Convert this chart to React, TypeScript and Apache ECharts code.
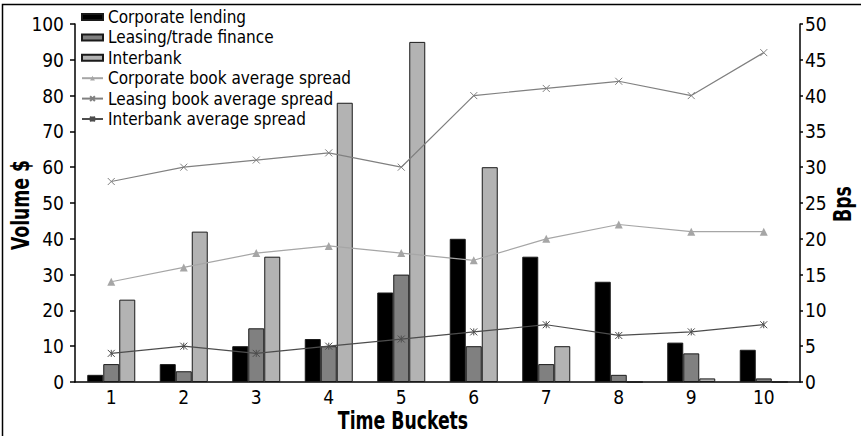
import React, { useEffect, useRef } from "react";
import * as echarts from "echarts";

const categories = ["1", "2", "3", "4", "5", "6", "7", "8", "9", "10"];
const corporateLending = [2, 5, 10, 12, 25, 40, 35, 28, 11, 9];
const leasingTrade = [5, 3, 15, 10, 30, 10, 5, 2, 8, 1];
const interbank = [23, 42, 35, 78, 95, 60, 10, 0, 1, 0];
const corporateSpread = [14, 16, 18, 19, 18, 17, 20, 22, 21, 21];
const leasingSpread = [28, 30, 31, 32, 30, 40, 41, 42, 40, 46];
const interbankSpread = [4, 5, 4, 5, 6, 7, 8, 6.5, 7, 8];

const FONT = "'Liberation Sans Narrow', 'DejaVu Sans Condensed', 'Roboto', sans-serif";

export default function App() {
  const ref = useRef<HTMLDivElement>(null);
  useEffect(() => {
    if (!ref.current) return;
    const chart = echarts.init(ref.current, undefined, { renderer: "svg" });
    const barStyle = (c: string) => ({ color: c, borderColor: "#1a1a1a", borderWidth: 1 });
    const titleStyle = (t: string) => ({
      text: t,
      fontFamily: FONT,
      fontWeight: "bold",
      fontSize: 24,
      fill: "#000",
      align: "center",
      verticalAlign: "middle",
    });
    chart.setOption({
      animation: false,
      backgroundColor: "#ffffff",
      textStyle: { fontFamily: FONT },
      grid: { left: 75, right: 61, top: 24, bottom: 54 },
      legend: {
        orient: "vertical",
        left: 81,
        top: 7,
        itemGap: 0.4,
        itemWidth: 21,
        itemHeight: 6,
        padding: 0,
        textStyle: { fontFamily: FONT, fontSize: 17, lineHeight: 20, color: "#000" },
        data: [
          { name: "Corporate lending", icon: "rect" },
          { name: "Leasing/trade finance", icon: "rect" },
          { name: "Interbank", icon: "rect" },
          { name: "Corporate book average spread" },
          { name: "Leasing book average spread" },
          { name: "Interbank average spread" },
        ],
      },
      graphic: [
        {
          type: "rect",
          shape: { x: 2.5, y: 4.5, width: 880, height: 460 },
          style: { fill: "none", stroke: "#000", lineWidth: 1.5 },
          z: 100,
        },
        { type: "text", x: 403, y: 421, scaleX: 0.8, style: titleStyle("Time Buckets") },
        { type: "text", x: 21, y: 205, rotation: Math.PI / 2, scaleX: 0.8, style: titleStyle("Volume $") },
        { type: "text", x: 843, y: 204, rotation: Math.PI / 2, scaleX: 0.8, style: titleStyle("Bps") },
      ],
      xAxis: {
        type: "category",
        data: categories,
        axisLine: { lineStyle: { color: "#000", width: 1.5 } },
        axisTick: { alignWithLabel: false, length: 4, lineStyle: { color: "#000", width: 1.5 } },
        axisLabel: { color: "#000", fontSize: 19, margin: 5, fontFamily: FONT },
        splitLine: { show: false },
      },
      yAxis: [
        {
          type: "value",
          min: 0,
          max: 100,
          interval: 10,
          axisLine: { show: true, lineStyle: { color: "#000", width: 1.5 } },
          axisTick: { show: true, length: 5, lineStyle: { color: "#000", width: 1.5 } },
          axisLabel: { color: "#000", fontSize: 19, margin: 11, fontFamily: FONT },
          splitLine: { show: false },
        },
        {
          type: "value",
          min: 0,
          max: 50,
          interval: 5,
          axisLine: { show: true, lineStyle: { color: "#000", width: 1.5 } },
          axisTick: { show: true, length: 3, lineStyle: { color: "#000", width: 1.5 } },
          axisLabel: { color: "#000", fontSize: 19, margin: 5, fontFamily: FONT },
          splitLine: { show: false },
        },
      ],
      series: [
        { name: "Corporate lending", type: "bar", yAxisIndex: 0, data: corporateLending, barWidth: 16, barGap: "0%", itemStyle: barStyle("#000000") },
        { name: "Leasing/trade finance", type: "bar", yAxisIndex: 0, data: leasingTrade, barWidth: 16, barGap: "0%", itemStyle: barStyle("#808080") },
        { name: "Interbank", type: "bar", yAxisIndex: 0, data: interbank, barWidth: 16, barGap: "0%", itemStyle: barStyle("#b3b3b3") },
        {
          name: "Corporate book average spread",
          type: "line",
          yAxisIndex: 1,
          data: corporateSpread,
          symbol: "triangle",
          symbolSize: 8,
          lineStyle: { color: "#a6a6a6", width: 1.2 },
          itemStyle: { color: "#a6a6a6" },
        },
        {
          name: "Leasing book average spread",
          type: "line",
          yAxisIndex: 1,
          data: leasingSpread,
          symbol: "path://M0,0L10,10M10,0L0,10",
          symbolSize: 7,
          lineStyle: { color: "#808080", width: 1.2 },
          itemStyle: { color: "#808080", borderColor: "#808080", borderWidth: 1 },
        },
        {
          name: "Interbank average spread",
          type: "line",
          yAxisIndex: 1,
          data: interbankSpread,
          symbol: "path://M0,0L10,10M10,0L0,10M5,0L5,10",
          symbolSize: 7,
          lineStyle: { color: "#4d4d4d", width: 1.2 },
          itemStyle: { color: "#4d4d4d", borderColor: "#4d4d4d", borderWidth: 1 },
        },
      ],
    });
    return () => chart.dispose();
  }, []);
  return (
    <div
      ref={ref}
      style={{ position: "fixed", left: 0, top: 0, width: 861, height: 436, background: "#fff" }}
    />
  );
}
